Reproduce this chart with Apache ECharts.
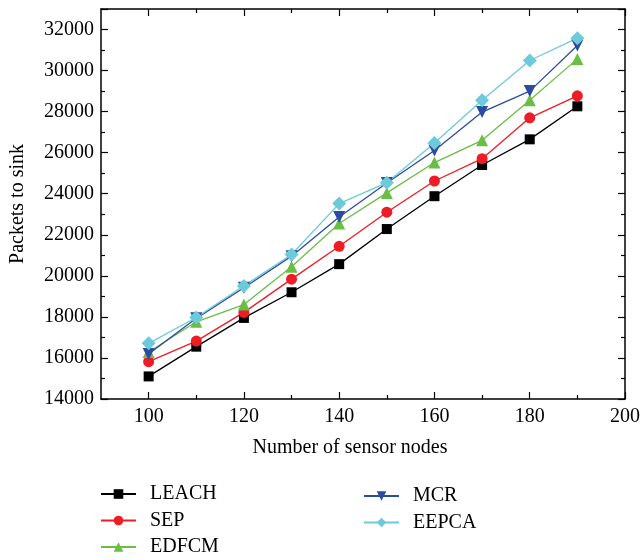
<!DOCTYPE html>
<html>
<head>
<meta charset="utf-8">
<script src="https://cdn.jsdelivr.net/npm/echarts@6/dist/echarts.min.js"></script>
<style>html,body{margin:0;padding:0;background:#fff}#c{width:643px;height:560px}</style>
</head>
<body>
<div id="c"></div>
<script>
const nodes = [100, 110, 120, 130, 140, 150, 160, 170, 180, 190];
const leach = [15100, 16550, 17950, 19200, 20570, 22280, 23880, 25400, 26650, 28260];
const sep   = [15820, 16820, 18220, 19840, 21440, 23100, 24620, 25710, 27700, 28770];
const edfcm = [16290, 17760, 18600, 20440, 22550, 24040, 25520, 26600, 28560, 30570];
const mcr   = [16190, 17930, 19420, 20960, 22870, 24520, 26110, 27980, 29000, 31220];
const eepca = [16710, 17970, 19510, 21040, 23520, 24540, 26470, 28550, 30490, 31580];
const xMajor = [100, 120, 140, 160, 180, 200];
const xMinor = [110, 130, 150, 170, 190];

const FONT = 'Liberation Serif';
const FS = 20;
const chart = echarts.init(document.getElementById('c'));
const pair = a => a.map((v, i) => [nodes[i], v]);
const mk = (name, data, color, symbol, size) => ({
  name, type: 'line', data: pair(data), symbol, symbolSize: size,
  lineStyle: { color, width: 1.3 }, itemStyle: { color },
  xAxisIndex: 0, yAxisIndex: 0, z: 3
});
const baseX = (pos, showLabel, tickVals, len, showLine) => ({
  type: 'value', min: 90, max: 200, position: pos, gridIndex: 0,
  axisLine: { show: showLine, onZero: false, lineStyle: { color: '#000', width: 1.5 } },
  axisTick: { show: true, inside: true, length: len, customValues: tickVals, lineStyle: { color: '#000', width: 1.2 } },
  axisLabel: { show: showLabel, customValues: xMajor, color: '#000', fontFamily: FONT, fontSize: FS, margin: 8 },
  splitLine: { show: false }
});
const option = {
  backgroundColor: '#fff',
  animation: false,
  grid: { left: 101, right: 15, top: 9, bottom: 161, containLabel: false },
  xAxis: [
    Object.assign(baseX('bottom', true, xMajor, 7, true), {
      name: 'Number of sensor nodes', nameLocation: 'middle', nameGap: 39,
      nameTextStyle: { color: '#000', fontFamily: FONT, fontSize: FS, padding: [0, 26, 0, 0] }
    }),
    baseX('bottom', false, xMinor, 4, false),
    baseX('top', false, xMajor, 7, true),
    baseX('top', false, xMinor, 4, false)
  ],
  yAxis: [
    {
      type: 'value', min: 14000, max: 33000, interval: 2000, position: 'left',
      name: 'Packets to sink', nameLocation: 'middle', nameGap: 73,
      nameTextStyle: { color: '#000', fontFamily: FONT, fontSize: FS },
      axisLine: { show: true, onZero: false, lineStyle: { color: '#000', width: 1.5 } },
      axisTick: { show: true, inside: true, length: 7, lineStyle: { color: '#000', width: 1.2 } },
      minorTick: { show: true, splitNumber: 2, length: 4, lineStyle: { color: '#000', width: 1.2 } },
      axisLabel: { color: '#000', fontFamily: FONT, fontSize: FS, margin: 7, showMaxLabel: false,
        formatter: v => (v > 32000 ? '' : String(v)) },
      splitLine: { show: false }, minorSplitLine: { show: false }
    },
    {
      type: 'value', min: 14000, max: 33000, interval: 2000, position: 'right',
      axisLine: { show: true, onZero: false, lineStyle: { color: '#000', width: 1.5 } },
      axisTick: { show: true, inside: true, length: 7, lineStyle: { color: '#000', width: 1.2 } },
      minorTick: { show: true, splitNumber: 2, length: 4, lineStyle: { color: '#000', width: 1.2 } },
      axisLabel: { show: false }, splitLine: { show: false }, minorSplitLine: { show: false }
    }
  ],
  legend: [
    {
      orient: 'vertical', left: 100, top: 484, padding: 0, itemWidth: 35, itemHeight: 12, itemGap: 6.5,
      data: ['LEACH', 'SEP', 'EDFCM'],
      textStyle: { color: '#000', fontFamily: FONT, fontSize: FS, lineHeight: 20, padding: [0, 0, 0, 9] }
    },
    {
      orient: 'vertical', left: 363, top: 486, padding: 0, itemWidth: 35, itemHeight: 12, itemGap: 6.5,
      data: ['MCR', 'EEPCA'],
      textStyle: { color: '#000', fontFamily: FONT, fontSize: FS, lineHeight: 20, padding: [0, 0, 0, 9] }
    }
  ],
  series: [
    mk('LEACH', leach, '#000000', 'rect', 10),
    mk('SEP', sep, '#ee1c25', 'circle', 11),
    mk('EDFCM', edfcm, '#6abd45', 'triangle', 12),
    mk('MCR', mcr, '#2b4ba0', 'path://M0,0 L10,0 L5,9 Z', 12),
    mk('EEPCA', eepca, '#6ccad9', 'diamond', 14)
  ]
};
chart.setOption(option);
</script>
</body>
</html>
